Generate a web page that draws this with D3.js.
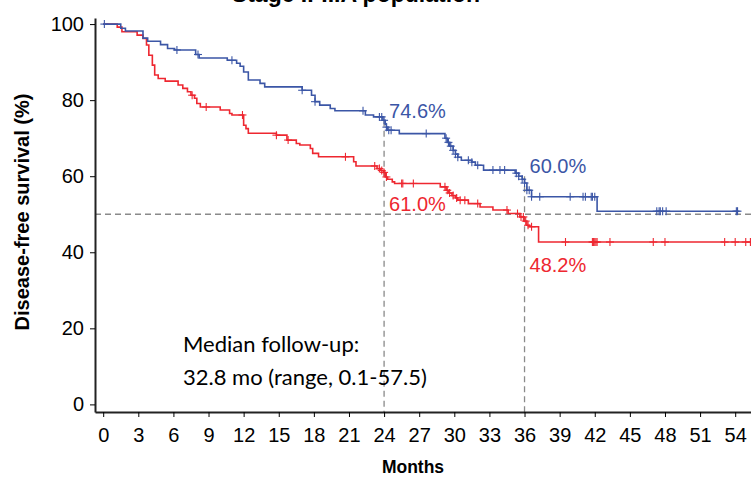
<!DOCTYPE html>
<html><head><meta charset="utf-8">
<script src="https://cdn.jsdelivr.net/npm/d3@7"></script>
<style>body{margin:0;background:#fff}svg{display:block}</style>
</head><body><div id="chart"></div>
<script>
const title = "Stage II-IIIA population";
const xLabel = "Months";
const yLabel = "Disease-free survival (%)";
const xTicks = [0,3,6,9,12,15,18,21,24,27,30,33,36,39,42,45,48,51,54];
const yTicks = [0,20,40,60,80,100];

const blueTimes = [0,1.5,1.9,3.4,3.8,4.9,5.5,6.1,7.9,8.2,10.6,11.4,11.7,12.0,12.4,13.4,13.8,17.0,17.8,18.1,18.5,19.4,19.8,22.4,23.1,23.9,24.1,24.2,24.3,25.3,29.2,29.4,29.6,29.9,30.1,30.3,30.6,31.5,31.8,32.5,35.2,35.5,35.8,36.0,36.2,36.6,42.2];
const blueSurv  = [100,98.9,98.2,96.3,95.5,94.6,93.6,93.2,92.0,91.1,90.5,89.7,88.9,87.4,85.3,84.4,83.5,82.6,81.3,79.6,78.7,77.8,77.2,76.1,75.6,74.7,73.7,72.9,72.1,71.2,70.0,68.9,67.9,66.8,65.8,65.0,64.2,63.7,62.9,61.6,60.8,60.0,59.2,58.2,56.3,54.6,50.8];
const blueEnd = 54.3;
const blueCensor = [0.1,6.3,8.1,11.0,17.0,18.1,22.2,23.6,23.8,24.0,24.2,24.4,24.6,27.6,29.3,29.5,29.7,29.9,30.1,30.3,31.2,31.5,32.0,33.3,33.9,34.3,35.3,35.5,35.8,36.0,36.2,36.4,36.6,37.3,39.9,41.0,41.2,41.7,41.8,42.0,47.3,47.5,47.6,47.8,48.1,54.1,54.2];

const redTimes = [0,1.2,1.6,2.9,3.4,3.7,3.9,4.2,4.4,4.7,5.3,6.4,6.8,7.2,7.5,7.8,8.0,8.3,10.0,10.8,11.0,12.0,12.2,12.4,14.8,15.7,16.5,16.8,17.7,17.9,18.4,21.4,21.6,23.4,23.7,23.95,24.1,24.3,24.7,24.9,28.8,29.3,29.5,29.8,30.1,30.3,31.2,32.2,33.3,34.6,35.6,35.95,36.2,36.4,37.2];
const redSurv  = [100,99.2,98.0,97.1,96.2,94.5,91.8,89.2,86.6,85.7,85.0,84.0,83.1,82.2,81.3,80.5,79.1,78.2,77.4,76.5,76.1,73.4,72.5,71.3,70.8,69.5,68.6,68.2,67.3,66.0,65.1,63.8,62.7,62.0,61.5,61.0,59.8,59.2,58.5,58.1,57.2,56.3,55.6,54.9,54.3,53.7,52.8,51.9,51.1,50.2,49.3,48.2,47.1,46.7,42.7];
const redEnd = 55.4;
const redCensor = [7.6,8.8,11.9,14.8,15.8,20.7,23.2,23.6,23.8,24.0,24.2,25.5,25.6,26.5,29.2,29.4,29.6,29.9,30.2,30.5,30.9,32.0,34.5,35.4,35.7,35.9,36.1,36.3,36.6,39.5,41.8,41.9,42.0,42.1,42.2,43.3,47.0,48.0,53.1,54.0,54.9,55.3];

const landmarks = [24, 36];
const blueLabels = ["74.6%", "60.0%"];
const blueLabelVals = [74.6, 60.0];
const redLabels = ["61.0%", "48.2%"];
const redLabelVals = [61.0, 48.2];
const refLevel = 50;
const noteLines = ["Median follow-up:", "32.8 mo (range, 0.1-57.5)"];

const BLUE = "#3B56A6", RED = "#EE2730", GREY = "#8a8a8a";
const W = 751, H = 477;
const svg = d3.select("#chart").append("svg").attr("width", W).attr("height", H)
  .style("font-family", "'Liberation Sans', Arial, sans-serif");

const x = d3.scaleLinear().domain([-0.7, 55.35]).range([95, 751]);
const y = d3.scaleLinear().domain([-2, 101.6]).range([412, 18]);

// title (cut off at the top edge, as in the reference)
svg.append("text").attr("x", 356).attr("y", 2).attr("text-anchor", "middle")
  .attr("font-size", 23).attr("font-weight", "bold").text(title);

// reference lines
svg.append("line").attr("x1", x.range()[0]).attr("x2", x.range()[1])
  .attr("y1", y(refLevel)).attr("y2", y(refLevel))
  .attr("stroke", GREY).attr("stroke-width", 1.3).attr("stroke-dasharray", "6,4");
landmarks.forEach((t, i) => {
  svg.append("line").attr("x1", x(t)).attr("x2", x(t))
    .attr("y1", y(blueLabelVals[i])).attr("y2", y.range()[0])
    .attr("stroke", GREY).attr("stroke-width", 1.3).attr("stroke-dasharray", "6,4");
});

// axes
const xAxis = d3.axisBottom(x).tickValues(xTicks).tickSize(5).tickSizeOuter(0).tickPadding(11);
const gx = svg.append("g").attr("transform", `translate(0,${y.range()[0]})`).call(xAxis);
const yAxis = d3.axisLeft(y).tickValues(yTicks).tickSize(5).tickSizeOuter(0).tickPadding(6);
const gy = svg.append("g").attr("transform", `translate(${x.range()[0]},0)`).call(yAxis);
[gx, gy].forEach(g => {
  g.selectAll("text").attr("font-size", 20).attr("fill", "#000")
    .style("font-family", "'Liberation Sans', Arial, sans-serif");
  g.selectAll("line").attr("stroke", "#000");
  g.select(".domain").attr("stroke", "#222").attr("stroke-width", 2);
});

svg.append("text").attr("x", 413).attr("y", 473).attr("text-anchor", "middle")
  .attr("font-size", 17.5).attr("font-weight", "bold").text(xLabel);
svg.append("text").attr("transform", "translate(29,212) rotate(-90)").attr("text-anchor", "middle")
  .attr("font-size", 20).attr("font-weight", "bold").text(yLabel);

// curves
function survAt(times, survs, t) {
  let v = survs[0];
  for (let i = 0; i < times.length; i++) if (times[i] <= t) v = survs[i];
  return v;
}
const line = d3.line().x(d => x(d[0])).y(d => y(d[1])).curve(d3.curveStepAfter);
function drawCurve(times, survs, end, censor, color) {
  const pts = times.map((t, i) => [t, survs[i]]);
  pts.push([end, survs[survs.length - 1]]);
  svg.append("path").datum(pts).attr("d", line).attr("fill", "none")
    .attr("stroke", color).attr("stroke-width", 1.6);
  const g = svg.append("g").attr("stroke", color).attr("stroke-width", 1.1);
  censor.forEach(t => {
    const cx = x(t), cy = y(survAt(times, survs, t));
    g.append("line").attr("x1", cx).attr("x2", cx).attr("y1", cy - 4).attr("y2", cy + 4);
    g.append("line").attr("x1", cx - 4).attr("x2", cx + 4).attr("y1", cy).attr("y2", cy);
  });
}
drawCurve(redTimes, redSurv, redEnd, redCensor, RED);
drawCurve(blueTimes, blueSurv, blueEnd, blueCensor, BLUE);

// landmark labels
const redLabelDy = [39, 51];
landmarks.forEach((t, i) => {
  svg.append("text").attr("x", x(t) + 5).attr("y", y(blueLabelVals[i]) - 3)
    .attr("font-size", 20).attr("fill", BLUE).text(blueLabels[i]);
  svg.append("text").attr("x", x(t) + 5).attr("y", y(redLabelVals[i]) + redLabelDy[i])
    .attr("font-size", 20).attr("fill", RED).text(redLabels[i]);
});

// note
noteLines.forEach((s, i) => {
  svg.append("text").attr("x", 183).attr("y", 352 + i * 33)
    .attr("font-size", 22).style("font-family", "Lato, 'Open Sans', sans-serif")
    .attr("fill", "#000").text(s);
});
</script></body></html>
